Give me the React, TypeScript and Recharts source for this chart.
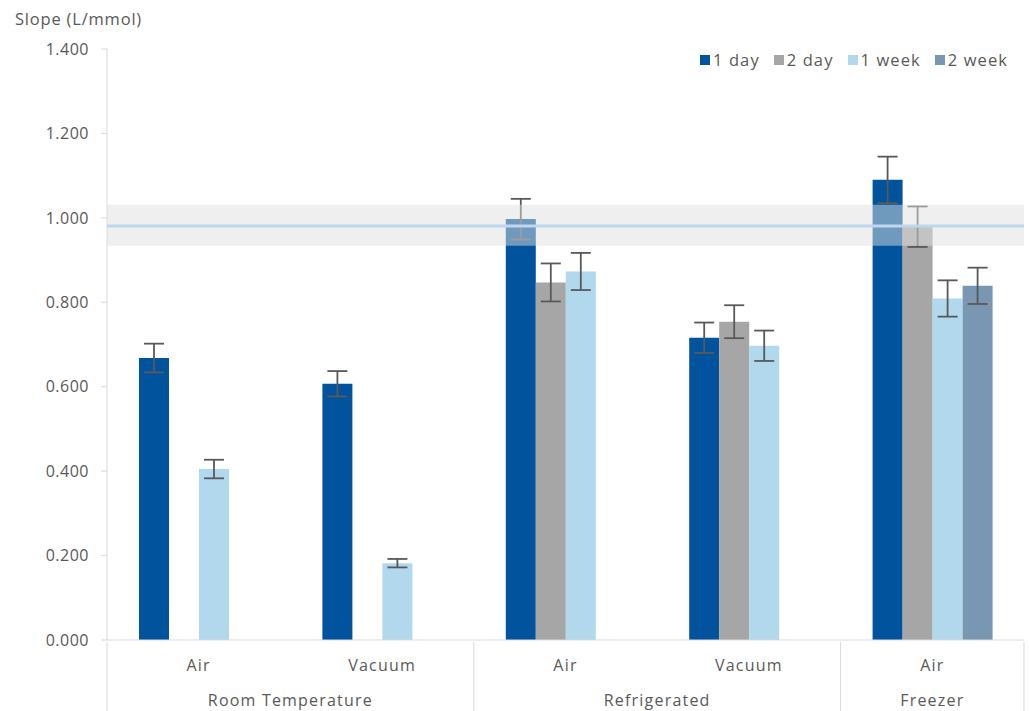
import { BarChart, Bar, XAxis, YAxis, ErrorBar, ReferenceArea, ReferenceLine } from "recharts";

const W = 1029;
const H = 711;
const FONT = "'Open Sans', 'Liberation Sans', sans-serif";
const TEXT = "#595959";
const AXIS = "#d9d9d9";

// categories (two-level axis)
const conditions = ["Air", "Vacuum", "Air", "Vacuum", "Air"];
const storage = ["Room Temperature", "Room Temperature", "Refrigerated", "Refrigerated", "Freezer"];

// series values + error (±)
const oneDay = [0.668, 0.607, 0.997, 0.716, 1.09];
const oneDayErr = [0.034, 0.03, 0.048, 0.036, 0.055];
const twoDay = [null, null, 0.847, 0.754, 0.979];
const twoDayErr = [null, null, 0.045, 0.039, 0.048];
const oneWeek = [0.405, 0.182, 0.873, 0.697, 0.809];
const oneWeekErr = [0.022, 0.01, 0.044, 0.036, 0.043];
const twoWeek = [null, null, null, null, 0.839];
const twoWeekErr = [null, null, null, null, 0.043];

const yTicks = [0, 0.2, 0.4, 0.6, 0.8, 1.0, 1.2, 1.4];
const refBand = [0.934, 1.031];
const refValue = 0.981;

const SERIES = [
  { key: "d1", err: "d1e", name: "1 day", color: "#00539c" },
  { key: "d2", err: "d2e", name: "2 day", color: "#a6a6a6" },
  { key: "w1", err: "w1e", name: "1 week", color: "#b1d8ec" },
  { key: "w2", err: "w2e", name: "2 week", color: "#7996b2" },
];

const data = conditions.map((c, i) => ({
  cat: c,
  group: storage[i],
  d1: oneDay[i], d1e: oneDayErr[i],
  d2: twoDay[i], d2e: twoDayErr[i],
  w1: oneWeek[i], w1e: oneWeekErr[i],
  w2: twoWeek[i], w2e: twoWeekErr[i],
}));

const MARGIN = { top: 49, right: 5, bottom: 0, left: 0 };
const Y_W = 107;
const X_H = 71;
const BAND = (W - MARGIN.left - MARGIN.right - Y_W) / data.length;

function CatTick(props: any) {
  const { x, y, payload } = props;
  const i = payload.index;
  const left = x - BAND / 2;
  const isStart = i === 0 || storage[i] !== storage[i - 1];
  const isLast = i === data.length - 1;
  const count = storage.filter((g) => g === storage[i]).length;
  return (
    <g>
      <text x={x} y={y + 29} textAnchor="middle" fill={TEXT} fontSize={16} letterSpacing={1.2} fontFamily={FONT}>
        {conditions[i]}
      </text>
      {isStart && (
        <>
          <line x1={left} x2={left} y1={y} y2={H} stroke={AXIS} strokeWidth={1} />
          <text x={left + (count * BAND) / 2} y={y + 64} textAnchor="middle" fill={TEXT} fontSize={16} letterSpacing={1.2} fontFamily={FONT}>
            {storage[i]}
          </text>
        </>
      )}
      {isLast && <line x1={x + BAND / 2} x2={x + BAND / 2} y1={y} y2={H} stroke={AXIS} strokeWidth={1} />}
    </g>
  );
}

export default function App() {
  return (
    <div style={{ position: "fixed", left: 0, top: 0, width: W, height: H, background: "#fff", fontFamily: FONT }}>
      <div style={{ position: "absolute", left: 15, top: 7, fontSize: 16.5, color: TEXT, letterSpacing: 0.8 }}>Slope (L/mmol)</div>
      <div style={{ position: "absolute", left: 700, top: 48, display: "flex", alignItems: "center", fontSize: 16.5, color: TEXT, letterSpacing: 1.1 }}>
        {SERIES.map((s) => (
          <span key={s.key} style={{ display: "flex", alignItems: "center", marginRight: 14 }}>
            <span style={{ width: 10, height: 10, background: s.color, marginRight: 3, display: "inline-block" }} />
            {s.name}
          </span>
        ))}
      </div>
      <BarChart width={W} height={H} data={data} margin={MARGIN} barGap={0} barSize={30}>
        <XAxis
          dataKey="cat"
          height={X_H}
          tick={<CatTick />}
          tickLine={false}
          tickSize={0}
          axisLine={{ stroke: AXIS }}
          interval={0}
        />
        <YAxis
          width={Y_W}
          domain={[0, 1.4]}
          ticks={yTicks}
          tickFormatter={(v: number) => v.toFixed(3)}
          tick={{ fill: TEXT, fontSize: 16, fontFamily: FONT, letterSpacing: 0.5 }}
          tickSize={6}
          tickMargin={12}
          tickLine={{ stroke: AXIS }}
          axisLine={{ stroke: AXIS }}
          interval={0}
        />
        {SERIES.map((s) => (
          <Bar key={s.key} dataKey={s.key} name={s.name} fill={s.color} isAnimationActive={false}>
            <ErrorBar dataKey={s.err} width={10} stroke="#595959" strokeWidth={1.8} />
          </Bar>
        ))}
        <ReferenceArea y1={refBand[0]} y2={refBand[1]} fill="#e0e0e0" fillOpacity={0.5} stroke="none" zIndex={1500} ifOverflow="visible" />
        <ReferenceLine y={refValue} stroke="#bdd7ee" strokeWidth={3} zIndex={1600} />
      </BarChart>
    </div>
  );
}
